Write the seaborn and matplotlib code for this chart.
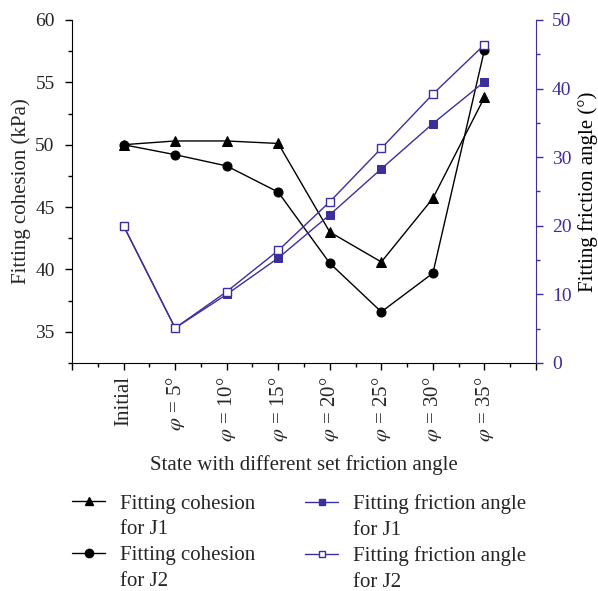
import numpy as np
import pandas as pd
import matplotlib
matplotlib.use("Agg")
import matplotlib.pyplot as plt
import seaborn as sns
from matplotlib.lines import Line2D
from matplotlib.ticker import FixedLocator, MultipleLocator

sns.set_style("ticks")
plt.rcParams['font.family'] = ['Liberation Serif', 'DejaVu Serif']
plt.rcParams['mathtext.fontset'] = 'stix'

# ---- data ----
states = ["Initial", "$\\varphi$ = 5°", "$\\varphi$ = 10°", "$\\varphi$ = 15°",
          "$\\varphi$ = 20°", "$\\varphi$ = 25°", "$\\varphi$ = 30°", "$\\varphi$ = 35°"]
cohesion_j1 = [50.0, 50.3, 50.3, 50.1, 43.0, 40.6, 45.7, 53.8]
cohesion_j2 = [50.0, 49.2, 48.3, 46.2, 40.5, 36.6, 39.7, 57.6]
friction_j1 = [20.0, 5.1, 10.0, 15.3, 21.6, 28.3, 34.9, 41.0]
friction_j2 = [20.0, 5.1, 10.4, 16.4, 23.5, 31.3, 39.2, 46.4]
legend_col1 = ["Fitting cohesion", "for J1", "Fitting cohesion", "for J2"]
legend_col2 = ["Fitting friction angle", "for J1", "Fitting friction angle", "for J2"]

purple = '#3b2f9c'
fs = 15
tfs = 14

df = pd.DataFrame({
    "pos": np.arange(len(states)),
    "c1": cohesion_j1, "c2": cohesion_j2,
    "f1": friction_j1, "f2": friction_j2,
})

fig = plt.figure(figsize=(5.98, 5.91), dpi=100)
ax = fig.add_axes([0.1204, 0.3858, 0.7759, 0.5804])
ax2 = ax.twinx()

sns.lineplot(data=df, x="pos", y="c1", ax=ax, color='black', marker='^',
             markersize=6.5, linewidth=1, markeredgecolor='black')
sns.lineplot(data=df, x="pos", y="c2", ax=ax, color='black', marker='o',
             markersize=6.5, linewidth=1, markeredgecolor='black')
sns.lineplot(data=df, x="pos", y="f1", ax=ax2, color=purple, marker='s',
             markersize=5.5, linewidth=1, markeredgecolor=purple)
sns.lineplot(data=df, x="pos", y="f2", ax=ax2, color=purple, marker='s',
             markersize=5.5, linewidth=1, markeredgecolor=purple,
             markerfacecolor='white', markeredgewidth=1)

ax.set_xlim(-1, 8)
ax.set_ylim(32.5, 60)
ax2.set_ylim(0, 50)

ax.xaxis.set_major_locator(FixedLocator(np.arange(-1, 9)))
ax.set_xticklabels([""] + states + [""], rotation=90, fontsize=fs)
ax.xaxis.set_minor_locator(FixedLocator(np.arange(-0.5, 8, 1)))
ax.yaxis.set_major_locator(MultipleLocator(5))
ax.yaxis.set_minor_locator(MultipleLocator(2.5))
ax2.yaxis.set_major_locator(MultipleLocator(10))
ax2.yaxis.set_minor_locator(MultipleLocator(5))

ax.tick_params(axis='both', which='major', length=5, width=1, color='black',
               direction='out')
ax.tick_params(axis='y', which='major', labelsize=tfs, pad=7.5)
ax.tick_params(axis='x', which='major', labelsize=fs, pad=4.5)
ax.tick_params(axis='both', which='minor', length=3, width=1, color='black',
               direction='out')
ax2.tick_params(axis='y', which='major', length=5, width=1, colors=purple,
                labelsize=tfs, direction='out', pad=6.5)
ax2.tick_params(axis='y', which='minor', length=3, width=1, color=purple,
                direction='out')

for a in (ax, ax2):
    a.spines['top'].set_visible(False)
ax.spines['right'].set_visible(False)
ax2.spines['left'].set_visible(False)
ax2.spines['bottom'].set_visible(False)
ax2.spines['right'].set_color(purple)
ax.spines['left'].set_color('black')
ax.spines['bottom'].set_color('black')

ax.set_xlabel("State with different set friction angle", fontsize=fs, labelpad=9.5)
ax.set_ylabel("Fitting cohesion (kPa)", fontsize=fs, labelpad=3)
ax2.set_ylabel("Fitting friction angle (°)", fontsize=fs, color='black', labelpad=5)

blank = Line2D([], [], color='none')
h1 = [Line2D([], [], color='black', marker='^', markersize=6, lw=1), blank,
      Line2D([], [], color='black', marker='o', markersize=6, lw=1), blank]
h2 = [Line2D([], [], color=purple, marker='s', markersize=5, lw=1), blank,
      Line2D([], [], color=purple, marker='s', markersize=5, lw=1,
             markerfacecolor='white', markeredgecolor=purple), blank]
common = dict(loc='upper left', frameon=False, fontsize=fs, handlelength=1.6,
              handletextpad=0.7, labelspacing=0.3, borderpad=0, borderaxespad=0)
fig.legend(h1, legend_col1, bbox_to_anchor=(72 / 598, 1 - 494 / 591), **common)
fig.legend(h2, legend_col2, bbox_to_anchor=(305 / 598, 1 - 494 / 591), **common)

fig.savefig("out.png", dpi=100)
